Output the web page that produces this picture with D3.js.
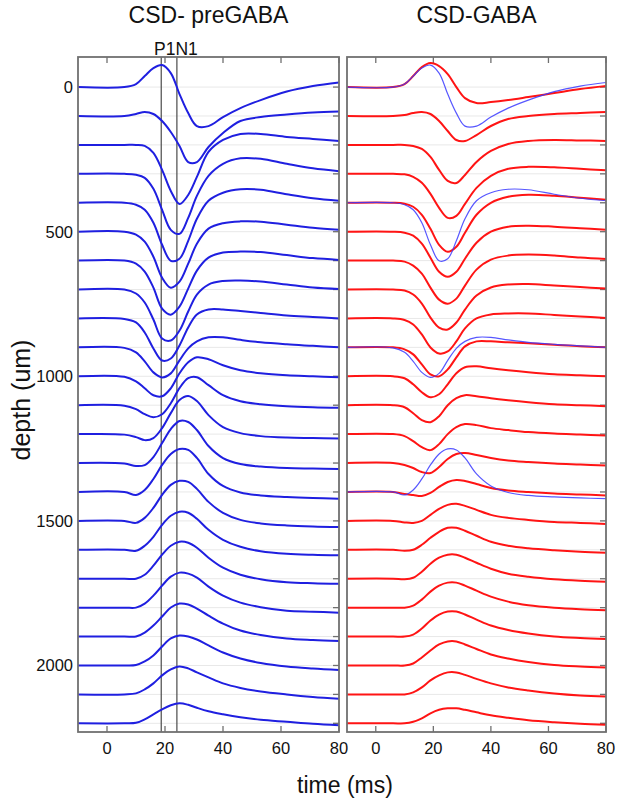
<!DOCTYPE html>
<html><head><meta charset="utf-8">
<script src="https://cdn.jsdelivr.net/npm/d3@7"></script>
<style>
body{margin:0;background:#fff;}
svg{display:block;font-family:"Liberation Sans",Arial,Helvetica,sans-serif;}
</style></head>
<body><svg id="c" width="620" height="803"></svg>
<script>
// ---------------- data ----------------
const times = [-10, 6, 10, 13, 16, 19, 22, 25, 28, 31, 35, 40, 46, 53, 62, 71, 80];
const depths = [0,100,200,300,400,500,600,700,800,900,1000,1100,1200,1300,1400,1500,1600,1700,1800,1900,2000,2100,2200];
const xTicks = [0, 20, 40, 60, 80];
const yTicks = [0, 500, 1000, 1500, 2000];
const markerTimes = [18.7, 24.1]; // P1, N1
const overlayDepths = [0, 400, 900, 1400];

// CSD amplitude (a.u., positive = up) per depth, preGABA
const preGABA = [
 [0,0,3,11,19,22,14,-7,-26,-39,-39,-30,-21,-13,-4.5,1,4.6],
 [0,0,2,4,2,-5,-16,-30,-46,-46,-31,-17,-5,-1,1.5,3.5,4.6],
 [0,0,0,-1,-8,-25,-46,-59,-50,-32,-7,5,11,11,8,6,4],
 [0,0,-1,-4,-15,-36,-56,-60,-44,-22,-2,10,15.5,15,10,5.5,2.7],
 [0,0,-2,-7,-20,-42,-58,-56,-38,-16,2,10,13.5,13,8.5,4.5,2],
 [0,0,-3,-10,-25,-46,-56,-50,-32,-12,3,8.5,10.3,10,7,4,2],
 [0,0,-3,-11,-27,-48,-54,-46,-28,-10,3,8,9,8.5,5.5,2.5,0.7],
 [0,0,-4,-13,-30,-49,-51,-41,-22,-5,5,8.5,9,8,5,2,0.5],
 [0,-0.5,-4,-14,-30,-42,-40,-27,-9,4,9,9,7.5,5.5,3,1.5,0],
 [0,-0.5,-5,-14,-25,-30,-26,-13,-1,6,10,10,7.5,5,3,1.5,0],
 [0,-0.5,-5,-12,-19,-20,-12,3,14,19,17,11,6,3,1,0,-1],
 [0,-0.5,-4,-9,-12,-9,2,17,27,28,20,10,4,1,-1,-2,-2.5],
 [0,-0.5,-3,-6,-4,6,21,34,38,33,19,7,1,-2,-3.5,-4,-4.5],
 [0,-0.5,-3,-2,6,20,34,42,41,33,17,5,-1,-3.5,-5,-5.5,-6],
 [0,0,-3,2,13,27,38,43,42,34,18,6,-0.5,-3.5,-5,-6,-6.7],
 [0,0,-2,3,13,26,36,40,39,32,19,8,1,-2.5,-4.5,-5.5,-6],
 [0,0,-1,4,13,25,34,38,37,31,20,10,3,-1.5,-4,-5,-5.5],
 [0,0,0,4,13,24,33,37,36,31,21,11,4,-0.5,-3.5,-4.5,-5],
 [0,0,0,4,12,22,31,35,34,30,21,12,5,0.5,-3,-4,-5],
 [0,0,0,4,11,20,29,33,32,28,21,13,6,1.5,-2,-3.5,-4.5],
 [0,0,0.5,4,10,19,27,30,29,26,20,13,7,2.5,-1,-3,-4.5],
 [0,0,1,5,11,19,25,28,26,22,17,11,6.5,3,0,-2.5,-4.4],
 [0,0,0.5,4,9,14,18,20,18.5,15.5,12,9,6,3.5,1.5,-0.5,-2]
];

// GABA
const GABA = [
 [0,0,3,11,20,24,21,13,0,-11,-16,-15,-13,-10,-6,-2,1],
 [0,0,1,3,4,2,-5,-15,-24,-25,-19,-10,-3,0,2,3,4],
 [0,0,0,-1,-4,-12,-25,-36,-38,-30,-17,-6,1,4,5,4.5,4],
 [0,0,-0.5,-3,-9,-20,-34,-44,-42,-30,-14,-2,5,7,6.5,5,3.5],
 [0,0,-1,-4,-12,-26,-42,-49,-44,-30,-12,0,6,8,7,5,3],
 [0,0,-1,-4,-12,-26,-40,-45,-40,-27,-11,0,5,6,5,3.5,2],
 [0,0,-1,-5,-13,-27,-39,-43,-38,-25,-9,1,5,6,5,3,1.5],
 [0,0,-1,-5,-14,-28,-38,-40,-33,-20,-6,2,5,5.5,4,2.5,1],
 [0,0,-1.5,-6,-16,-29,-35,-33,-23,-10,0,4,5,5,3.5,2,0.5],
 [0,0,-2,-7,-17,-27,-29,-22,-10,1,6,6,5,4,2.5,1,0],
 [0,0,-2,-8,-16,-21,-18,-8,3,9,10,8,6,4,2,1,0],
 [0,0,-2,-8,-15,-17,-11,0,7,10,9,7,5,3,1,0,-1],
 [0,0,-2,-7,-13,-16,-10,0,7,10,9,6,4,2,0.5,-0.5,-1.5],
 [0,0,-2,-5,-9,-10,-4,4,9,10,8,5,2.5,1,-0.5,-1.5,-2.5],
 [0,0,-2,-3,-4,-1,5,10,12,11,8,4,1.5,0,-1.5,-2.5,-3.5],
 [0,0,-1.5,-2,0,6,12,16,17,15,11,6,3,1,-1,-2,-3],
 [0,0,-1,0,5,12,18,22,22,19,14,8,4,1.5,-0.5,-2,-3],
 [0,0,-0.5,1,7,15,21,24,24,21,16,10,5,2,-0.5,-2,-3],
 [0,0,0,2,8,16,22,25,25,22,17,11,6,2.5,0,-1.5,-2.5],
 [0,0,0,2,8,16,22,25,25,22,17,11,6.5,3,0,-1.5,-2.5],
 [0,0,0,2,8,15,21,24,24,21,16.5,11,7,3.5,0.5,-1,-2],
 [0,0,0,2,7,14,19,22,22,19.5,15.5,11,7,4,1,-1,-2],
 [0,0,0,1.5,5,10,13.5,15,15,13.5,11,8,5.5,3,1,-0.5,-1.5]
];

// ---------------- drawing ----------------
const svg = d3.select("#c");
const yTop = 57, yBot = 732;
const GAIN = 3.46; // depth units per amplitude unit
const y = d3.scaleLinear().domain([-104, 2230]).range([yTop, yBot]);
const panels = [
  {x: d3.scaleLinear().domain([-10, 80]).range([78, 339]), title: "CSD- preGABA", data: preGABA, color: "#1f1fe0", overlay: false, markers: true, ylabels: true},
  {x: d3.scaleLinear().domain([-10, 80]).range([347, 606]), title: "CSD-GABA", data: GABA, color: "#ff1414", overlay: true, markers: false, ylabels: false}
];
const frameCol = "#707070";

panels.forEach(p => {
  const [x0, x1] = p.x.range();
  const g = svg.append("g");
  g.selectAll("line.grid").data(depths).enter().append("line")
    .attr("x1", x0).attr("x2", x1).attr("y1", d => y(d)).attr("y2", d => y(d))
    .attr("stroke", "#e8e8e8").attr("stroke-width", 1);
  g.selectAll("line.rt").data(depths).enter().append("line")
    .attr("x1", x1 - 6).attr("x2", x1).attr("y1", d => y(d)).attr("y2", d => y(d))
    .attr("stroke", frameCol).attr("stroke-width", 1.3);
  xTicks.forEach(t => {
    const xx = p.x(t);
    g.append("line").attr("x1", xx).attr("x2", xx).attr("y1", yTop).attr("y2", yTop + 6).attr("stroke", frameCol).attr("stroke-width", 1.3);
    g.append("line").attr("x1", xx).attr("x2", xx).attr("y1", yBot).attr("y2", yBot - 6).attr("stroke", frameCol).attr("stroke-width", 1.3);
    g.append("text").attr("x", xx).attr("y", 754).attr("text-anchor", "middle")
      .attr("font-size", 16.5).attr("fill", "#111").text(t);
  });
  if (p.markers) {
    markerTimes.forEach(t => {
      g.append("line").attr("x1", p.x(t)).attr("x2", p.x(t)).attr("y1", yTop).attr("y2", yBot)
        .attr("stroke", "#4a4a4a").attr("stroke-width", 1.2);
    });
    g.append("text").attr("x", p.x(markerTimes[1]) - 1).attr("y", 55)
      .attr("text-anchor", "middle").attr("font-size", 17.5).attr("fill", "#111").text("P1N1");
  }
  const line = d3.line().curve(d3.curveCatmullRom.alpha(0.5))
    .x((v, i) => p.x(times[i]));
  p.data.forEach((vals, k) => {
    const d0 = depths[k];
    g.append("path").attr("d", line.y(v => y(d0 - GAIN * v))(vals))
      .attr("fill", "none").attr("stroke", p.color).attr("stroke-width", 2);
  });
  if (p.overlay) {
    overlayDepths.forEach(dd => {
      const k = depths.indexOf(dd);
      g.append("path").attr("d", line.y(v => y(dd - GAIN * v))(preGABA[k]))
        .attr("fill", "none").attr("stroke", "#3a3aff").attr("stroke-opacity", 0.85).attr("stroke-width", 1.2);
    });
  }
  g.append("rect").attr("x", x0).attr("y", yTop).attr("width", x1 - x0).attr("height", yBot - yTop)
    .attr("fill", "none").attr("stroke", frameCol).attr("stroke-width", 1.8);
  svg.append("text").attr("x", (x0 + x1) / 2).attr("y", 23).attr("text-anchor", "middle")
    .attr("font-size", 23).attr("fill", "#111").text(p.title);
  if (p.ylabels) {
    yTicks.forEach(t => {
      svg.append("text").attr("x", 73).attr("y", y(t) + 6).attr("text-anchor", "end")
        .attr("font-size", 16.5).attr("fill", "#111").text(t);
    });
  }
});
svg.append("text").attr("transform", "translate(30,400) rotate(-90)").attr("text-anchor", "middle")
  .attr("font-size", 25).attr("fill", "#111").text("depth (um)");
svg.append("text").attr("x", 345).attr("y", 793).attr("text-anchor", "middle")
  .attr("font-size", 23).attr("fill", "#111").text("time (ms)");
</script></body></html>
